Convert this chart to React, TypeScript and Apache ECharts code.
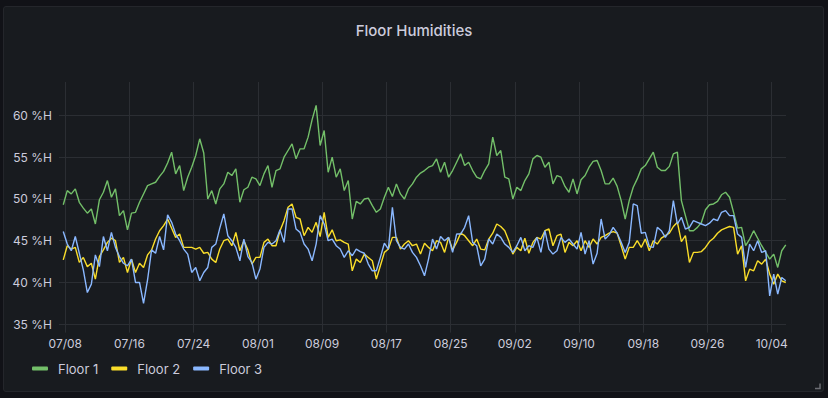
import React, { useEffect, useRef } from "react";
import * as echarts from "echarts";

const chartTitle = "Floor Humidities";
const seriesNames = ["Floor 1", "Floor 2", "Floor 3"];
const seriesColors = ["#73BF69", "#FADE2A", "#8AB8FF"];

// time: days since 07/08 (UTC base date), one sample every 12 hours
const baseDateUTC = Date.UTC(2023, 6, 8);
const sampleStartDay = -0.25;
const sampleStepDays = 0.5;

const floor1 = [
  49.3, 51.0, 50.6, 51.2, 49.6, 48.9, 48.3, 48.8, 47.0, 49.9,
  50.8, 52.2, 50.2, 51.2, 48.0, 48.6, 46.3, 48.3, 48.4, 49.6,
  50.6, 51.6, 51.8, 52.0, 52.7, 53.3, 54.3, 55.6, 53.0, 54.0,
  51.0, 52.6, 53.8, 55.2, 57.2, 55.5, 50.0, 51.0, 49.4, 51.2,
  51.8, 53.2, 52.8, 53.6, 49.6, 51.1, 51.4, 52.6, 52.4, 51.6,
  53.0, 54.0, 51.4, 53.4, 53.6, 55.0, 55.8, 56.6, 54.8, 56.0,
  56.0, 57.4, 59.5, 61.2, 56.4, 58.2, 53.2, 55.0, 52.6, 53.6,
  51.0, 52.2, 47.6, 49.7, 49.4, 50.0, 50.1, 49.2, 48.4, 48.8,
  50.2, 51.4, 50.3, 51.8, 50.6, 50.0, 51.2, 51.8, 52.6, 53.1,
  53.4, 53.8, 54.0, 54.8, 53.2, 54.4, 52.6, 53.4, 54.4, 55.4,
  54.0, 54.4, 53.4, 52.6, 52.4, 53.4, 54.2, 57.4, 55.2, 55.8,
  52.6, 52.4, 50.0, 51.4, 51.0, 52.2, 53.0, 54.8, 55.2, 55.0,
  53.8, 54.4, 51.8, 52.8, 52.6, 51.5, 50.8, 52.4, 50.6, 52.3,
  52.8, 53.8, 54.5, 54.6, 53.4, 51.8, 51.8, 52.5, 51.5, 49.8,
  47.6, 49.8, 51.4, 52.4, 53.6, 54.0, 54.8, 55.6, 53.8, 53.4,
  53.4, 53.9, 55.4, 55.6, 49.8, 48.0, 46.2, 46.2, 46.6, 47.2,
  48.7, 49.3, 49.4, 49.7, 50.5, 50.8, 50.2, 48.4, 46.5, 46.6,
  44.4, 45.2, 46.2, 45.3, 44.4, 43.6, 42.8, 43.4, 41.8, 43.8, 44.5,
];

const floor2 = [
  42.7, 44.4, 44.0, 44.2, 42.4, 43.0, 41.9, 42.3, 40.4, 43.1,
  43.9, 44.8, 45.3, 45.0, 42.4, 43.0, 41.2, 42.8, 41.2, 42.3,
  41.8, 43.3, 43.9, 45.2, 46.2, 46.8, 47.6, 46.5, 45.4, 45.8,
  44.2, 44.2, 44.2, 44.0, 44.2, 43.5, 43.6, 42.8, 42.4, 44.0,
  45.0, 45.2, 44.4, 46.0, 43.8, 45.0, 43.9, 42.2, 43.0, 43.0,
  44.8, 45.2, 44.4, 44.4, 46.2, 47.4, 49.0, 49.4, 47.8, 47.6,
  45.6, 46.6, 46.0, 47.2, 45.5, 48.4, 45.4, 46.3, 45.0, 45.1,
  44.8, 44.6, 41.4, 42.8, 42.4, 43.4, 43.0, 42.6, 40.4, 42.0,
  43.6, 44.0, 45.4, 45.4, 44.0, 44.6, 45.0, 44.4, 44.6, 43.4,
  44.7, 44.2, 43.8, 45.0, 44.8, 43.6, 45.4, 43.9, 44.8, 45.9,
  45.6, 45.0, 44.4, 45.2, 44.0, 43.9, 45.2, 45.9, 47.0, 46.7,
  46.2, 45.0, 43.4, 44.2, 43.8, 45.3, 43.5, 44.8, 45.4, 45.2,
  46.2, 46.4, 44.4, 45.6, 45.8, 43.6, 44.8, 44.4, 45.0, 43.8,
  45.0, 44.2, 45.2, 44.6, 45.4, 45.6, 45.9, 46.1, 45.9, 44.4,
  42.8, 44.2, 44.2, 45.0, 44.2, 45.2, 43.8, 45.0, 44.6, 45.3,
  45.6, 45.9, 46.7, 47.2, 44.9, 45.6, 42.4, 43.6, 43.6, 43.7,
  44.2, 44.9, 45.3, 45.9, 46.3, 46.5, 46.7, 46.6, 43.4, 44.4,
  40.2, 41.6, 41.4, 42.6, 42.2, 42.8, 41.0, 39.8, 41.0, 40.2, 40.0,
];

const floor3 = [
  46.1, 44.6, 43.8, 45.5, 43.5, 41.5, 38.8, 39.8, 43.3, 41.9,
  45.5, 43.8, 46.0, 44.2, 43.1, 42.3, 42.0, 42.8, 40.0, 40.0,
  37.5, 40.3, 43.9, 43.5, 45.5, 43.9, 48.1, 47.2, 45.8, 45.0,
  44.0, 43.4, 41.2, 41.8, 40.2, 41.2, 41.8, 44.2, 44.6, 46.5,
  48.2, 45.6, 45.0, 44.2, 42.6, 45.2, 43.1, 42.4, 40.4, 41.6,
  44.2, 44.8, 44.6, 45.0, 46.3, 44.8, 48.8, 48.8, 46.4, 46.0,
  44.6, 44.0, 42.6, 44.6, 48.0, 47.0, 45.0, 45.2, 44.4, 44.0,
  43.0, 43.8, 43.2, 44.0, 43.7, 43.5, 42.2, 41.4, 41.4, 43.0,
  44.7, 44.0, 49.0, 45.0, 44.2, 44.0, 44.6, 43.6, 43.0, 42.0,
  40.8, 42.8, 45.2, 44.0, 45.5, 45.0, 45.4, 43.6, 45.8, 45.8,
  46.6, 48.0, 44.8, 44.4, 42.0, 42.8, 45.2, 44.6, 45.8, 45.4,
  44.6, 44.2, 43.6, 44.4, 45.4, 43.8, 44.4, 44.2, 45.4, 43.6,
  46.2, 44.0, 43.4, 43.8, 45.4, 44.8, 45.2, 44.6, 44.0, 46.0,
  43.4, 45.0, 42.2, 43.5, 47.6, 45.2, 45.7, 46.6, 45.9, 44.8,
  43.6, 44.8, 49.4, 49.2, 45.9, 46.0, 44.3, 44.2, 46.6, 46.2,
  45.4, 46.2, 49.8, 47.0, 47.8, 46.4, 46.6, 47.4, 47.2, 47.0,
  46.8, 47.1, 47.6, 47.4, 48.4, 48.6, 48.0, 48.0, 45.8, 45.4,
  41.8, 44.6, 43.8, 45.0, 43.6, 43.8, 38.4, 41.0, 38.6, 40.6, 40.2,
];

const seriesValues = [floor1, floor2, floor3];

// axes
const xViewMinDay = -0.78;
const xViewMaxDay = 89.78;
const xFirstTickDay = 0; // 07/08
const xLastTickDay = 88; // 10/04
const xTickStepDays = 8;
const yMin = 34;
const yMax = 64;
const ySplitNumber = 6; // 5 %H steps
const yNiceStep = 5;
const yUnit = " %H";

const textColor = "#ccccdc";
const gridColor = "#2b2e33";
const font = "Inter";

function formatDay(day: number): string {
  const d = new Date(baseDateUTC + Math.round(day) * 86400000);
  const mm = String(d.getUTCMonth() + 1).padStart(2, "0");
  const dd = String(d.getUTCDate()).padStart(2, "0");
  return `${mm}/${dd}`;
}

export default function App() {
  const ref = useRef<HTMLDivElement>(null);

  useEffect(() => {
    if (!ref.current) return;
    const chart = echarts.init(ref.current, null, { renderer: "svg" });

    const W = 828;
    const H = 398;
    const plotLeft = 59;
    const plotRight = 786;
    const plotTop = 82;
    const plotBottom = 332.6;
    const pxPerDay = (plotRight - plotLeft) / (xViewMaxDay - xViewMinDay);
    const tickLeft = plotLeft + (xFirstTickDay - xViewMinDay) * pxPerDay;
    const tickRight = plotLeft + (xLastTickDay - xViewMinDay) * pxPerDay;

    // y split line colours: hide lines at the (non-nice) min and max of the range
    const ySplitColors: string[] = [];
    const firstNice = Math.ceil(yMin / yNiceStep) * yNiceStep;
    const lastNice = Math.floor(yMax / yNiceStep) * yNiceStep;
    if (yMin < firstNice) ySplitColors.push("transparent");
    for (let v = firstNice; v <= lastNice; v += yNiceStep) ySplitColors.push(gridColor);
    if (yMax > lastNice) ySplitColors.push("transparent");

    const option: any = {
      animation: false,
      backgroundColor: "transparent",
      textStyle: { fontFamily: font },
      title: {
        text: chartTitle,
        left: "center",
        top: 18,
        textStyle: { color: textColor, fontSize: 15, fontWeight: 500, fontFamily: font },
      },
      legend: {
        data: seriesNames,
        left: 32,
        top: 362,
        padding: 0,
        orient: "horizontal",
        icon: "roundRect",
        itemWidth: 16,
        itemHeight: 4,
        itemGap: 13,
        textStyle: { color: textColor, fontSize: 13, fontFamily: font, padding: [0, 0, 0, 5] },
      },
      grid: [
        { left: plotLeft, right: W - plotRight, top: plotTop, bottom: H - plotBottom, containLabel: false },
        { left: tickLeft, right: W - tickRight, top: plotTop, bottom: H - plotBottom, containLabel: false },
      ],
      xAxis: [
        {
          type: "value",
          gridIndex: 0,
          min: xViewMinDay,
          max: xViewMaxDay,
          axisLine: { show: false },
          axisTick: { show: false },
          axisLabel: { show: false },
          splitLine: { show: false },
        },
        {
          type: "value",
          gridIndex: 1,
          min: xFirstTickDay,
          max: xLastTickDay,
          interval: xTickStepDays,
          axisLine: { show: false },
          axisTick: { show: false },
          axisLabel: {
            color: textColor,
            fontSize: 12,
            fontFamily: font,
            margin: 5,
            formatter: (v: number) => formatDay(v),
          },
          splitLine: { show: true, lineStyle: { color: gridColor, width: 1 } },
        },
      ],
      yAxis: [
        {
          type: "value",
          gridIndex: 0,
          min: yMin,
          max: yMax,
          splitNumber: ySplitNumber,
          axisLine: { show: false },
          axisTick: { show: false },
          axisLabel: {
            color: textColor,
            fontSize: 12,
            fontFamily: font,
            margin: 7,
            showMinLabel: false,
            showMaxLabel: false,
            formatter: (v: number) => `${v}${yUnit}`,
          },
          splitLine: { show: true, lineStyle: { color: ySplitColors, width: 1 } },
        },
        {
          type: "value",
          gridIndex: 1,
          min: yMin,
          max: yMax,
          show: false,
          splitLine: { show: false },
        },
      ],
      series: seriesNames.map((name, si) => ({
        name,
        type: "line",
        xAxisIndex: 0,
        yAxisIndex: 0,
        showSymbol: false,
        symbol: "none",
        smooth: false,
        color: seriesColors[si],
        lineStyle: { color: seriesColors[si], width: 1.4 },
        emphasis: { disabled: true },
        data: seriesValues[si].map((v, i) => [sampleStartDay + i * sampleStepDays, v]),
        z: 2 + si,
      })),
      graphic: [
        {
          type: "polyline",
          silent: true,
          shape: { points: [[820, 383.5], [820, 388.5], [815, 388.5]] },
          style: { stroke: "#6b6d73", lineWidth: 1.5, fill: null },
        },
      ],
    };

    chart.setOption(option);
    return () => chart.dispose();
  }, []);

  return (
    <div style={{ position: "absolute", left: 0, top: 0, width: 828, height: 398, background: "#111217", overflow: "hidden" }}>
      <div
        style={{
          position: "absolute",
          left: 3,
          top: 6,
          width: 821,
          height: 386,
          boxSizing: "border-box",
          border: "1px solid #24262b",
          borderRadius: 3,
          background: "#181b1f",
        }}
      />
      <div ref={ref} style={{ position: "absolute", left: 0, top: 0, width: 828, height: 398 }} />
    </div>
  );
}
